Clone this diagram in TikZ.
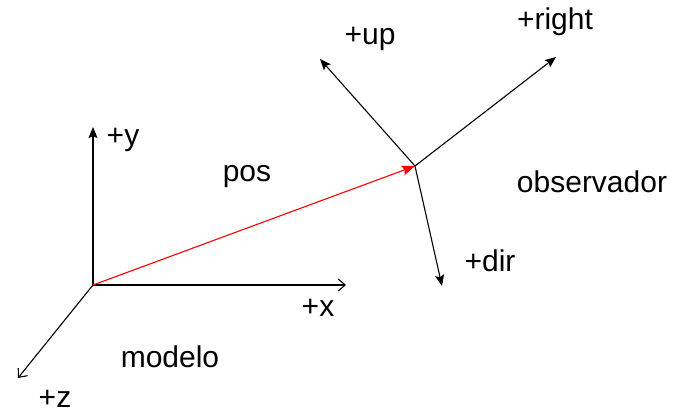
\documentclass[tikz,border=0pt]{standalone}
\usepackage{fontspec}
\setmainfont{Liberation Sans}
\usetikzlibrary{arrows.meta}
\tikzset{
  axis/.style={draw=black, line width=1.1pt},
  openax/.style={axis, -{Straight Barb[length=7pt,width=12pt]}},
  fillax/.style={axis, -{Stealth[length=11pt,width=9pt,inset=2pt]}},
  posvec/.style={draw=red, line width=1.1pt, -{Stealth[length=13pt,width=10pt,inset=2pt]}},
  lbl/.style={font=\fontsize{30}{34}\selectfont, inner sep=0pt}
}
\begin{document}
\begin{tikzpicture}[x=1pt,y=-1pt]
  \useasboundingbox (0,0) rectangle (675,415);
  % model frame
  \coordinate (orig) at (93,285);
  \coordinate (ytip) at (93,127);
  \coordinate (xtip) at (346,285);
  \coordinate (ztip) at (18,378);
  % observer frame
  \coordinate (obs) at (415,166);
  \coordinate (uptip) at (320,59);
  \coordinate (righttip) at (556,57);
  \coordinate (dirtip) at (442,286);

  \draw[fillax] (orig) -- (ytip);
  \draw[openax] (orig) -- (xtip);
  \draw[openax] (orig) -- (ztip);
  \draw[posvec] (orig) -- (obs);
  \draw[fillax] (obs) -- (uptip);
  \draw[fillax] (obs) -- (righttip);
  \draw[fillax] (obs) -- (dirtip);

  \node[lbl] (ylbl) at (123,140) {+y};
  \node[lbl] (xlbl) at (318,308) {+x};
  \node[lbl] (zlbl) at (55,399) {+z};
  \node[lbl] (modelo) at (170,357) {modelo};
  \node[lbl] (pos) at (247,177) {pos};
  \node[lbl] (uplbl) at (370,39) {+up};
  \node[lbl] (rightlbl) at (555,22) {+right};
  \node[lbl] (observador) at (592,182) {observador};
  \node[lbl] (dirlbl) at (490,261) {+dir};
\end{tikzpicture}
\end{document}
